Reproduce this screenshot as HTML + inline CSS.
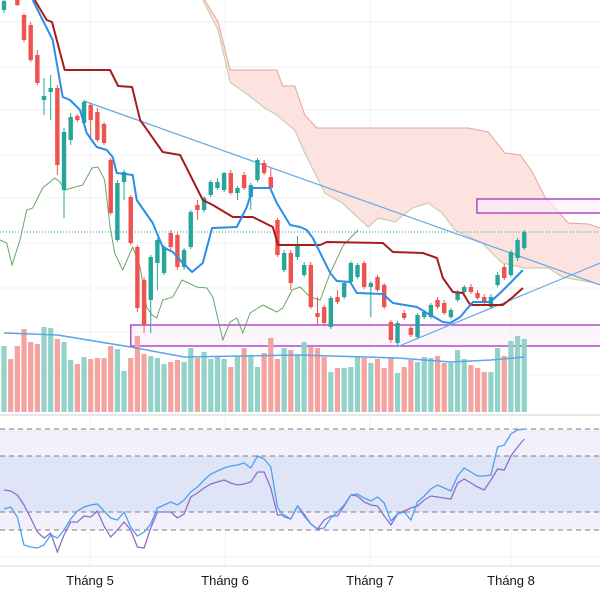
<!DOCTYPE html>
<html><head><meta charset="utf-8"><style>
html,body{margin:0;padding:0;background:#fff;}
#wrap{position:relative;width:600px;height:600px;overflow:hidden;font-family:"Liberation Sans",sans-serif;}
.xl{position:absolute;top:573px;font-size:13px;color:#131722;transform:translateX(-50%);white-space:nowrap;}
</style></head><body>
<div id="wrap">
<svg id="chart" width="600" height="600" viewBox="0 0 600 600" style="position:absolute;left:0;top:0"></svg>
<div class="xl" style="left:90px">Tháng 5</div>
<div class="xl" style="left:225px">Tháng 6</div>
<div class="xl" style="left:370px">Tháng 7</div>
<div class="xl" style="left:511px">Tháng 8</div>
</div>
<script>
const opens=[490,508,500,485,475,445,400,408,412,310,360,384,377,395,388,376,340,260,318,303,253,220,200,237,227,267,265,233,253,295,290,305,312,310,327,307,325,303,320,337,323,280,230,247,243,225,235,187,193,173,203,203,218,223,237,213,223,215,178,157,187,172,163,183,183,200,197,183,200,208,213,207,203,193,215,233,225,242,252];
const closes=[499,502,495,460,440,417,404,412,335,368,383,380,398,380,360,357,287,317,328,257,192,175,243,260,253,253,233,250,288,290,302,318,318,327,307,312,312,315,340,327,312,245,247,217,255,235,193,183,177,202,198,217,237,235,213,217,210,193,160,177,182,165,185,188,195,193,187,190,208,213,208,202,198,203,225,222,248,260,268];
const highs=[503,512,502,487,478,450,422,425,415,372,387,386,400,397,392,378,342,320,330,305,255,223,245,262,255,270,267,252,290,300,304,320,322,328,330,314,328,317,342,340,332,282,250,250,264,238,238,203,195,204,210,219,239,237,239,219,225,217,180,179,190,174,187,190,197,203,200,192,210,215,216,210,206,206,228,236,250,262,270];
const lows=[487,500,494,458,438,415,385,380,325,282,355,378,375,360,358,355,285,258,300,255,188,167,167,210,225,250,230,230,251,280,288,303,310,308,305,300,310,290,318,325,310,243,228,210,240,223,191,175,175,171,196,201,216,221,211,183,208,191,157,155,180,163,161,181,181,191,185,181,198,206,206,200,196,191,213,220,223,239,250];
const volumes=[66,53,66,83,70,68,85,84,73,70,52,48,55,53,54,54,66,63,41,54,76,58,56,54,48,50,52,50,64,54,60,53,55,53,45,56,64,56,45,59,74,53,64,62,57,70,65,64,55,40,44,44,45,55,54,49,53,44,55,39,45,52,50,55,54,56,49,49,62,53,47,44,40,40,64,56,71,76,73];
const volMA=[[0,79],[8,77],[19,65],[27,55],[44,57],[59,54],[67,50],[73,52],[78,55]];
const tenkan=[[4.3,500],[5.8,480],[7.3,460],[8.8,403],[9.9,400],[11.4,390],[12.4,367],[13.9,353],[15.4,350],[16.3,343],[16.9,327],[19.3,325],[19.9,300],[22.3,277],[23.8,253],[25.3,248],[26.8,237],[28.2,228],[29.8,237],[31.2,272],[34.9,273],[36.4,293],[37.3,312],[39.9,312],[40.9,297],[42.9,275],[44.4,273],[45.4,270],[46.3,262],[48.9,227],[49.9,219],[51.9,218],[52.9,207],[56.8,206],[58.3,197],[61.9,193],[63.4,187],[65.8,178],[66.9,177],[68.4,183],[70.3,198],[72.9,198],[74.4,207],[75.9,217],[77.8,230]];
const kijun=[[4.6,500],[6.4,480],[7.2,478],[9.1,430],[15.9,430],[17.1,414],[19.2,413],[20.4,380],[23.8,348],[26.4,345],[29.8,300],[31.3,295],[34.3,283],[37.3,283],[40.3,273],[41.1,255],[47.4,255],[48.4,258],[56.8,257],[58.3,248],[62.8,247],[64.9,242],[65.8,222],[67.3,208],[68.8,207],[69.9,195],[74.8,195],[76.3,203],[77.8,212]];
const spanA=[[30.1,500],[32.1,478],[33.9,430],[40.9,430],[41.8,414],[43.6,414],[45.1,385],[46.9,372],[69.6,372],[72.6,368],[75.1,347],[77.4,345],[79.2,328],[81.1,303],[84.6,277],[87.6,276],[89.4,272]];
const spanB=[[29.8,500],[32.1,470],[33.9,418],[36.6,405],[39.1,392],[40.9,385],[43.6,370],[45.1,347],[48.1,307],[50.7,297],[54.6,273],[56.1,282],[58.6,278],[61.2,292],[63.6,297],[65.7,287],[67.6,270],[71.7,257],[74.7,237],[78.1,232],[81.6,232],[83.7,223],[88.6,217],[89.4,215]];
const chikou=[[-0.6,260],[0.4,257],[1.2,235],[2.4,260],[3.4,290],[4.3,292],[5.8,312],[7.6,322],[8.4,318],[9.1,310],[11.8,315],[13.2,332],[14.1,333],[15.1,320],[15.9,273],[16.6,247],[17.8,230],[19.3,253],[20.4,233],[21.4,193],[22.2,185],[22.9,182],[23.8,200],[25.3,203],[26.7,220],[28.9,213],[30.4,212],[31.3,203],[32.8,160],[33.9,178],[34.9,182],[35.8,167],[36.9,187],[38.8,195],[40.9,188],[41.8,192],[43.2,210],[44.4,213],[45.9,203],[47.4,200],[48.9,227],[50.9,255],[53.1,270]];
const trendDown=[[12,399],[89.4,215]];
const trendUp=[[58.9,153],[89.4,237]];
const zones=[[19,175,154],[70.9,301,287]];
const lastPrice=268;
const rsiFast=[55.5,56.5,51.5,37.5,36.5,36,37.5,42.5,41,45,50.5,54.5,56.5,57.5,58,54.5,51,50,54,46.5,42,44,48,56,57.5,59,57.5,60,64,66.5,70,73,74.5,76,77,77.5,78.5,76,82,80.5,76.5,56.5,51.5,50.5,57,52,48,45.5,46,51,54,57.5,62.5,63,61,59.5,61.5,58.5,49.5,53,54,50,59,62,65.5,67.5,66,64.5,72,76,74,72,72,72.5,86.5,87.5,93,95,95.5];
const rsiSlow=[65,64.5,62.5,57.5,51,44,41,43.5,34,42.5,49,49,52,51.5,54.5,47,41.5,45,49,45,36.5,36,46,54,54,54,51,53,61.5,63.5,66,68,69,70,68.5,67.5,68,69,74,74,66,52.5,52.5,50.5,57,53,48,45.5,50,52,52,57,62.5,62,59,57.5,57,52,47.5,53,54.5,56,57,60,62,61.5,61,60.5,68.5,70.5,68.5,66.5,65,70,75.5,75,82,86.5,90.5];
const rsiLevels=[95.5,82,54,45];

const NS="http://www.w3.org/2000/svg";
const svg=document.getElementById('chart');
const xS=i=>4+6.67*i;
const yS=p=>500-p;
const vS=v=>412-v;
const rS=v=>620-2*v;
function mk(tag,attrs,parent){const e=document.createElementNS(NS,tag);for(const k in attrs)e.setAttribute(k,attrs[k]);(parent||svg).appendChild(e);return e;}
function pts(arr,fy){return arr.map(d=>xS(d[0]).toFixed(1)+','+fy(d[1]).toFixed(1)).join(' ');}

// grid
[90,225,370,511].forEach(x=>{const g=mk('line',{x1:x,y1:0,x2:x,y2:566,stroke:'#f0f1f4','stroke-width':1});

});
[22,67,110,155,198,243,288,332,375,557].forEach(y=>{const g=mk('line',{x1:0,y1:y,x2:600,y2:y,stroke:'#f0f1f4','stroke-width':1});

});

// cloud
const cloud=mk('polygon',{points:pts(spanA,yS)+' '+pts(spanB.slice().reverse(),yS),fill:'#fbd9d5','fill-opacity':0.75,stroke:'none'});


const sa=mk('polyline',{points:pts(spanA,yS),fill:'none',stroke:'#e9a29c','stroke-width':1});


const sb=mk('polyline',{points:pts(spanB,yS),fill:'none',stroke:'#c9cfae','stroke-width':1.2});



// zones
zones.forEach(z=>{const r=mk('rect',{x:xS(z[0]),y:yS(z[1]),width:600-xS(z[0])+2,height:z[1]-z[2],fill:'#fbeefa','fill-opacity':0.6,stroke:'#b04cc8','stroke-width':1.5});

});

// volume
volumes.forEach((v,i)=>{const up=closes[i]>=opens[i];const r=mk('rect',{x:xS(i)-2.6,y:vS(v),width:5.2,height:v,fill:up?'#92d2c9':'#f5a3a0'});

});
const vm=mk('polyline',{points:pts(volMA,vS),fill:'none',stroke:'#5aa6e6','stroke-width':1.5});



// last price line
const lp=mk('line',{x1:0,y1:yS(lastPrice),x2:600,y2:yS(lastPrice),stroke:'#26a69a','stroke-width':1,'stroke-dasharray':'1,2'});



// chikou
const ck=mk('polyline',{points:pts(chikou,yS),fill:'none',stroke:'#6aa66a','stroke-width':1});



// trendlines
const t1=mk('polyline',{points:pts(trendDown,yS),fill:'none',stroke:'#64a8e8','stroke-width':1.2});


const t2=mk('polyline',{points:pts(trendUp,yS),fill:'none',stroke:'#64a8e8','stroke-width':1.2});



// candles
opens.forEach((o,i)=>{const c=closes[i];const up=c>=o;const col=up?'#26a69a':'#ef5350';
const w=mk('line',{x1:xS(i),x2:xS(i),y1:yS(highs[i]),y2:yS(lows[i]),stroke:col,'stroke-width':1});


const b=mk('rect',{x:xS(i)-2.2,y:yS(Math.max(o,c)),width:4.4,height:Math.max(1,Math.abs(o-c)),fill:col});

});

// kijun / tenkan
const kj=mk('polyline',{points:pts(kijun,yS),fill:'none',stroke:'#a81c1c','stroke-width':2,'stroke-linejoin':'round'});


const tk=mk('polyline',{points:pts(tenkan,yS),fill:'none',stroke:'#2b8ee6','stroke-width':2,'stroke-linejoin':'round'});



// pane separator
const sep=mk('line',{x1:0,y1:415,x2:600,y2:415,stroke:'#e6e8ec','stroke-width':2});



// RSI bands
const bo=mk('rect',{x:0,y:rS(rsiLevels[0]),width:600,height:rS(rsiLevels[3])-rS(rsiLevels[0]),fill:'#f2f0fb'});


const bi=mk('rect',{x:0,y:rS(rsiLevels[1]),width:600,height:rS(rsiLevels[2])-rS(rsiLevels[1]),fill:'#dfe4f7'});


rsiLevels.forEach(l=>{const d=mk('line',{x1:0,y1:rS(l),x2:600,y2:rS(l),stroke:'#787b86','stroke-width':1,'stroke-dasharray':'5,4'});

});
const bl=mk('line',{x1:0,y1:566,x2:600,y2:566,stroke:'#e6e8ec','stroke-width':1.5});


const toPts=a=>a.map((v,i)=>[i,v]);
const rs=mk('polyline',{points:pts(toPts(rsiSlow),rS),fill:'none',stroke:'#8e6fc9','stroke-width':1.3});


const rf=mk('polyline',{points:pts(toPts(rsiFast),rS),fill:'none',stroke:'#4f9ff0','stroke-width':1.3});


</script>
</body></html>
